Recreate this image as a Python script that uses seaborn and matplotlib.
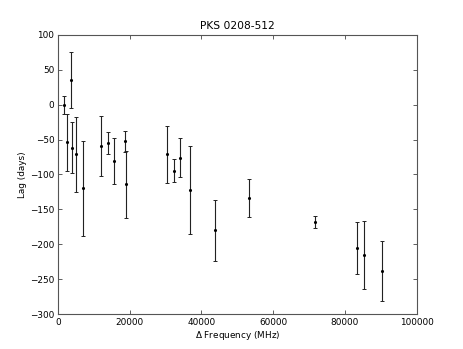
import matplotlib
matplotlib.use("Agg")
import matplotlib.pyplot as plt
import seaborn as sns
import pandas as pd

# lag vs frequency separation
delta_freq = [1750, 2500, 3600, 4000, 5100, 7100, 11950, 14000, 15550, 18600,
              19000, 30500, 32500, 34100, 36800, 43800, 53150, 71650, 83250,
              85400, 90200]
lag = [-1, -54, 35, -61.5, -71, -120, -58.5, -55, -80, -52.5,
       -114, -71, -94.5, -76, -122, -180, -133.5, -168, -205, -215, -238]
lag_err = [13, 41, 40, 36, 54, 68, 43, 15.5, 33, 15,
           48, 41, 16, 28, 63, 44, 27, 8, 37, 49, 43]

df = pd.DataFrame({"dfreq": delta_freq, "lag": lag, "err": lag_err})

sns.set_style("ticks")
plt.rcParams["font.family"] = ["DejaVu Sans"]
plt.rcParams["text.color"] = "black"
plt.rcParams["axes.labelcolor"] = "black"

fig = plt.figure(figsize=(4.63, 3.49), dpi=100)
ax = fig.add_axes([0.125, 0.1, 0.775, 0.8])

ax.errorbar(df["dfreq"], df["lag"], yerr=df["err"], fmt="none",
            ecolor="#222222", elinewidth=0.8, capsize=1.6, capthick=0.7)
sns.scatterplot(data=df, x="dfreq", y="lag", ax=ax, color="black",
                marker="o", s=5, linewidth=0, zorder=3)

ax.set_xlim(0, 100000)
ax.set_ylim(-300, 100)
ax.set_xticks(range(0, 100001, 20000))
ax.set_yticks(range(-300, 101, 50))
ax.set_title("PKS 0208-512", fontsize=7.7, pad=4, color="black")
ax.set_xlabel(r"$\Delta$ Frequency (MHz)", fontsize=6.4, labelpad=2)
ax.set_ylabel("Lag (days)", fontsize=6.4, labelpad=2)

ax.tick_params(direction="in", length=3, width=0.6, labelsize=6.4,
               top=True, right=True, pad=2.5, color="#444444",
               labelcolor="black")
for s in ax.spines.values():
    s.set_visible(True)
    s.set_linewidth(0.8)
    s.set_color("#555555")

fig.savefig("out.png", dpi=100)
